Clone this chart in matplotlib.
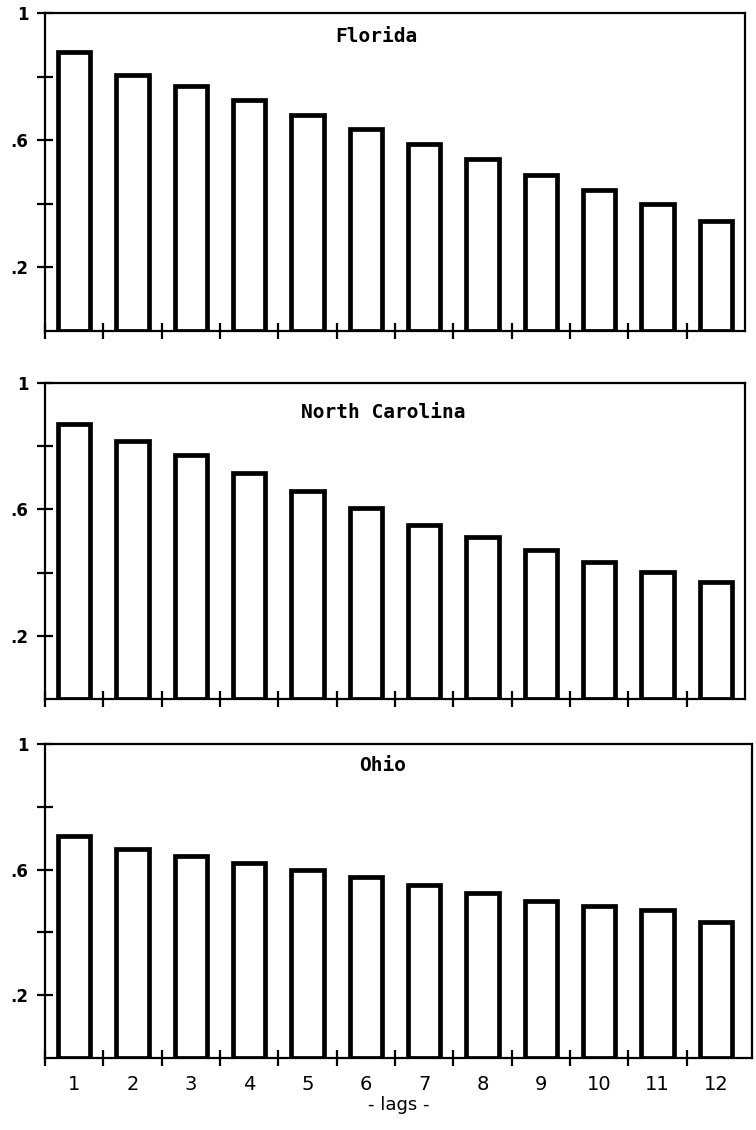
import matplotlib
matplotlib.use("Agg")
import matplotlib.pyplot as plt
import numpy as np

lags = list(range(1, 13))
lag_labels = [str(i) for i in lags]
florida = [0.878, 0.806, 0.769, 0.725, 0.678, 0.634, 0.588, 0.541, 0.491, 0.444, 0.400, 0.347]
north_carolina = [0.870, 0.816, 0.771, 0.714, 0.657, 0.606, 0.552, 0.514, 0.473, 0.435, 0.403, 0.371]
ohio = [0.706, 0.665, 0.642, 0.620, 0.598, 0.576, 0.551, 0.525, 0.500, 0.484, 0.472, 0.434]
titles = ["Florida", "North Carolina", "Ohio"]
series = [florida, north_carolina, ohio]
ytick_vals = [0.2, 0.4, 0.6, 0.8, 1.0]
ytick_labels = [".2", "", ".6", "", "1"]

fig = plt.figure(figsize=(7.56, 11.3), dpi=100)

W, H = 756.0, 1130.0
# (left, top, right, bottom) in pixels
boxes = [(45, 13, 745, 331), (45, 383, 745, 699), (45, 744, 752, 1058)]
title_pos = [(0.473, 0.925), (0.483, 0.908), (0.477, 0.933)]
unit_px = 700.0 / 12.0

for i, (box, vals, title) in enumerate(zip(boxes, series, titles)):
    l, t, r, b = box
    ax = fig.add_axes([l / W, 1 - b / H, (r - l) / W, (b - t) / H])
    ax.bar(lags, vals, width=0.55, facecolor="white", edgecolor="black",
           linewidth=3.4, zorder=2)
    ax.set_xlim(0.5, 0.5 + (r - l) / unit_px)
    ax.set_ylim(0, 1)
    for s in ax.spines.values():
        s.set_linewidth(1.6)
        s.set_color("black")
    ax.set_yticks(ytick_vals)
    ax.set_yticklabels(ytick_labels, fontsize=12, fontweight="bold")
    ax.tick_params(axis="y", direction="inout", length=12, width=1.6, pad=6)
    # tick marks between bars
    ax.set_xticks(np.arange(0.5, 12.0, 1.0), minor=True)
    ax.tick_params(axis="x", which="minor", direction="inout", length=12, width=1.6)
    ax.set_xticks(lags)
    if i == 2:
        ax.set_xticklabels(lag_labels, fontsize=14)
        ax.tick_params(axis="x", which="major", length=0, pad=12)
        ax.set_xlabel("- lags -", fontsize=13, labelpad=2)
    else:
        ax.set_xticklabels([])
        ax.tick_params(axis="x", which="major", length=0)
    ax.text(title_pos[i][0], title_pos[i][1], title, transform=ax.transAxes,
            ha="center", va="center", fontsize=14, fontweight="bold",
            family="DejaVu Sans Mono")

fig.savefig("out.png", dpi=100)
